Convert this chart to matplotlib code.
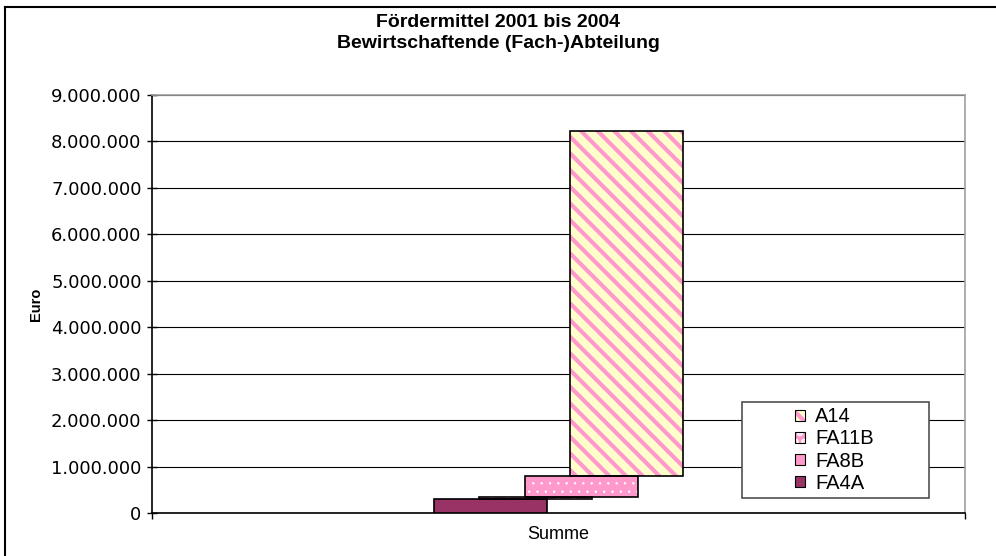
import matplotlib
matplotlib.use("Agg")
import matplotlib.pyplot as plt
import numpy as np
from matplotlib.lines import Line2D
from matplotlib.patches import Patch, Rectangle
from matplotlib.ticker import FuncFormatter

plt.rcParams['font.family'] = ['Liberation Sans', 'DejaVu Sans']
plt.rcParams['hatch.linewidth'] = 3.0

# data
category = 'Summe'
series = ['FA4A', 'FA8B', 'FA11B', 'A14']
values = [300000, 35000, 470000, 7420000]
yticks = [0, 1000000, 2000000, 3000000, 4000000, 5000000,
          6000000, 7000000, 8000000, 9000000]

# styles per series: face, hatch, hatch colour, hatch width
styles = {
    'FA4A': ('#993366', None, None, 1.0),
    'FA8B': ('#FF99CC', '|', 'white', 3.0),
    'FA11B': ('#FF99CC', '..', 'white', 0.5),
    'A14': ('#FFFFCC', '\\\\', '#FF99CC', 3.0),
}


def hatch_patch(p, hlw):
    if hasattr(p, 'set_hatch_linewidth'):
        p.set_hatch_linewidth(hlw)


fig = plt.figure(figsize=(9.96, 5.56), dpi=100)
ax = fig.add_axes([152/996, 43/556, 813/996, 418/556])

width = 0.139
step = 0.0554
bottoms = np.concatenate([[0], np.cumsum(values)[:-1]])
for i, name in enumerate(series):
    face, hatch, hcol, hlw = styles[name]
    x = 0.5 + (i - 1.5) * step
    if hatch:
        bars = ax.bar(x, values[i], width, bottom=bottoms[i], color=face,
                      hatch=hatch, edgecolor=hcol, linewidth=0, zorder=3)
        for p in bars:
            hatch_patch(p, hlw)
    else:
        ax.bar(x, values[i], width, bottom=bottoms[i], color=face,
               linewidth=0, zorder=3)
    ax.bar(x, values[i], width, bottom=bottoms[i], fill=False,
           edgecolor='black', linewidth=1.2, zorder=4)

ax.set_xlim(0, 1)
ax.set_ylim(0, 9000000)
ax.set_yticks(yticks)
ax.yaxis.set_major_formatter(FuncFormatter(lambda v, p: f'{int(v):,}'.replace(',', '.')))
ax.set_xticks([0, 1])
ax.set_xticklabels(['', ''])
ax.tick_params(axis='y', direction='inout', length=7, width=1, labelsize=13, pad=4)
for lab in ax.get_yticklabels():
    lab.set_family('DejaVu Sans')
ax.tick_params(axis='x', direction='out', length=4, width=1)
ax.text(0.5, -0.03, category, transform=ax.transAxes, ha='center', va='top',
        fontsize=13)
ax.set_ylabel('Euro', fontsize=10.5, fontweight='bold', labelpad=6)
ax.grid(axis='y', color='black', linewidth=0.8, zorder=0)
ax.set_axisbelow(True)

for s in ['top', 'right']:
    ax.spines[s].set_color('#a0a0a0')
    ax.spines[s].set_linewidth(1.2)
for s in ['left', 'bottom']:
    ax.spines[s].set_color('black')
    ax.spines[s].set_linewidth(1.2)

fig.suptitle('Fördermittel 2001 bis 2004\nBewirtschaftende (Fach-)Abteilung',
             y=1 - 14/556, va='top', fontsize=14, fontweight='bold',
             linespacing=1.3)

# legend (reverse order), frame drawn separately
fig.add_artist(Rectangle((742/996, 1 - 498/556), 187/996, 96/556,
                         transform=fig.transFigure, fill=True, facecolor='white',
                         edgecolor='#505050', linewidth=1.2, zorder=5))
handles = []
for name in series[::-1]:
    face, hatch, hcol, hlw = styles[name]
    if hatch:
        hp = Patch(facecolor=face, hatch=hatch, edgecolor=hcol, linewidth=0)
        hatch_patch(hp, hlw)
        handles.append((hp, Patch(fill=False, edgecolor='black', linewidth=0.8)))
    else:
        handles.append(Patch(facecolor=face, edgecolor='black', linewidth=0.8))
leg = fig.legend(handles, series[::-1], loc='center left',
                 bbox_to_anchor=(795/996, 1 - 450/556),
                 fontsize=14.5, frameon=False,
                 handlelength=0.5, handleheight=0.5, handletextpad=0.5,
                 labelspacing=0.15, borderpad=0, borderaxespad=0)
leg.set_zorder(6)

# outer frame of chart
fig.add_artist(Line2D([5/996, 5/996], [0, 1 - 7/556], color='black', lw=1.5,
                      transform=fig.transFigure))
fig.add_artist(Line2D([5/996, 1], [1 - 7/556, 1 - 7/556], color='black', lw=1.5,
                      transform=fig.transFigure))

fig.savefig('out.png', dpi=100)
